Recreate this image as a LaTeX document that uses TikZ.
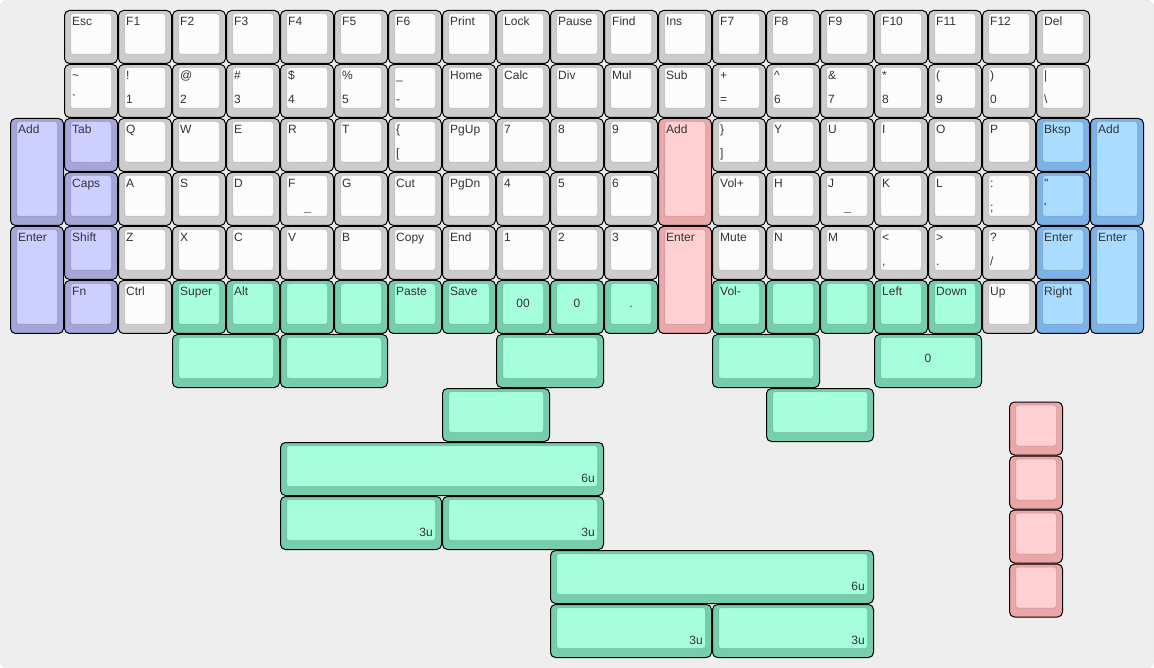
\documentclass[tikz,border=0pt]{standalone}
\usepackage{fontspec}
\setmainfont{Liberation Sans}
\definecolor{gryS}{RGB}{204,204,204}
\definecolor{gryT}{RGB}{252,252,252}
\definecolor{purS}{RGB}{163,166,214}
\definecolor{purT}{RGB}{204,207,255}
\definecolor{redS}{RGB}{235,166,168}
\definecolor{redT}{RGB}{255,208,210}
\definecolor{bluS}{RGB}{125,178,230}
\definecolor{bluT}{RGB}{170,220,255}
\definecolor{grnS}{RGB}{118,206,172}
\definecolor{grnT}{RGB}{166,255,220}
\definecolor{board}{RGB}{238,238,238}
\definecolor{ink}{RGB}{51,51,51}
\tikzset{
  keyside/.style={fill=#1S,draw=black,line width=1pt,rounded corners=5pt},
  keytop/.style={fill=#1T,draw=#1S!75!black,draw opacity=0.35,line width=1pt,rounded corners=3pt},
  keylabel/.style={anchor=base west,inner sep=0pt,font=\fontsize{12}{14}\selectfont,text=ink},
  keymid/.style={keylabel,anchor=base},
  keyright/.style={keylabel,anchor=base east},
  homing/.style={draw=ink!60,line width=0.8pt},
}
% key body: col, row, width, height (units), colour scheme
\newcommand{\keybody}[5]{%
  \path[keyside=#5] ({10+54*#1+0.5},{10+54*#2+0.5}) rectangle +({54*#3-1},{54*#4-1});
  \path[keytop=#5] ({10+54*#1+6.5},{10+54*#2+3.5}) rectangle +({54*#3-13},{54*#4-13});}
% key with top and bottom legends
\newcommand{\keycap}[7]{\keybody{#1}{#2}{#3}{#4}{#5}%
  \node[keylabel] (t#1-#2) at ({10+54*#1+8},{10+54*#2+16}) {#6};
  \node[keylabel] (b#1-#2) at ({10+54*#1+8},{10+54*#2+40}) {#7};}
% key with centred legend
\newcommand{\keymid}[6]{\keybody{#1}{#2}{#3}{#4}{#5}%
  \node[keymid] (c#1-#2) at ({10+54*#1+27*#3},{10+54*#2+28}) {#6};}
% key with bottom right legend
\newcommand{\keyright}[6]{\keybody{#1}{#2}{#3}{#4}{#5}%
  \node[keyright] (r#1-#2) at ({10+54*#1+54*#3-9},{10+54*#2+40}) {#6};}

\begin{document}
\begin{tikzpicture}[x=1pt,y=-1pt]
  \useasboundingbox (0,0) rectangle (1154,668);
  \path[fill=board,draw=black!12,rounded corners=6pt] (0.5,0.5) rectangle (1153.5,667.5);

  % function row
  \foreach \t [count=\i] in {Esc,F1,F2,F3,F4,F5,F6,Print,Lock,Pause,Find,Ins,F7,F8,F9,F10,F11,F12,Del}{
    \keycap{\i}{0}{1}{1}{gry}{\t}{}}
  % number row
  \foreach \t/\b [count=\i] in {{\textasciitilde}/{\textasciigrave},{!}/{1},{@}/{2},{\#}/{3},{\$}/{4},{\%}/{5},{\_}/{-},{Home}/{},{Calc}/{},{Div}/{},{Mul}/{},{Sub}/{},{+}/{=},{\textasciicircum}/{6},{\&}/{7},{*}/{8},{(}/{9},{)}/{0},{\textbar}/{\textbackslash}}{
    \keycap{\i}{1}{1}{1}{gry}{\t}{\b}}

  % top letter row
  \keycap{0}{2}{1}{2}{pur}{Add}{}
  \keycap{1}{2}{1}{1}{pur}{Tab}{}
  \foreach \t/\b [count=\i from 2] in {{Q}/{},{W}/{},{E}/{},{R}/{},{T}/{},{\{}/{[},{PgUp}/{},{7}/{},{8}/{},{9}/{}}{
    \keycap{\i}{2}{1}{1}{gry}{\t}{\b}}
  \keycap{12}{2}{1}{2}{red}{Add}{}
  \foreach \t/\b [count=\i from 13] in {{\}}/{]},{Y}/{},{U}/{},{I}/{},{O}/{},{P}/{}}{
    \keycap{\i}{2}{1}{1}{gry}{\t}{\b}}
  \keycap{19}{2}{1}{1}{blu}{Bksp}{}
  \keycap{20}{2}{1}{2}{blu}{Add}{}

  % home row
  \keycap{1}{3}{1}{1}{pur}{Caps}{}
  \foreach \t [count=\i from 2] in {A,S,D,F,G,Cut,PgDn,4,5,6}{
    \keycap{\i}{3}{1}{1}{gry}{\t}{}}
  \foreach \t/\b [count=\i from 13] in {{Vol+}/{},{H}/{},{J}/{},{K}/{},{L}/{},{:}/{;}}{
    \keycap{\i}{3}{1}{1}{gry}{\t}{\b}}
  \keycap{19}{3}{1}{1}{blu}{\textquotedbl}{\textquotesingle}
  \draw[homing] ({10+54*5+23.5},{10+54*3+40}) -- +(7,0);
  \draw[homing] ({10+54*15+23.5},{10+54*3+40}) -- +(7,0);

  % bottom letter row
  \keycap{0}{4}{1}{2}{pur}{Enter}{}
  \keycap{1}{4}{1}{1}{pur}{Shift}{}
  \foreach \t [count=\i from 2] in {Z,X,C,V,B,Copy,End,1,2,3}{
    \keycap{\i}{4}{1}{1}{gry}{\t}{}}
  \keycap{12}{4}{1}{2}{red}{Enter}{}
  \foreach \t/\b [count=\i from 13] in {{Mute}/{},{N}/{},{M}/{},{\textless}/{,},{\textgreater}/{.},{?}/{/}}{
    \keycap{\i}{4}{1}{1}{gry}{\t}{\b}}
  \keycap{19}{4}{1}{1}{blu}{Enter}{}
  \keycap{20}{4}{1}{2}{blu}{Enter}{}

  % modifier row
  \keycap{1}{5}{1}{1}{pur}{Fn}{}
  \keycap{2}{5}{1}{1}{gry}{Ctrl}{}
  \foreach \t [count=\i from 3] in {Super,Alt,{},{},Paste,Save}{
    \keycap{\i}{5}{1}{1}{grn}{\t}{}}
  \keymid{9}{5}{1}{1}{grn}{00}
  \keymid{10}{5}{1}{1}{grn}{0}
  \keymid{11}{5}{1}{1}{grn}{.}
  \foreach \t [count=\i from 13] in {Vol-,{},{},Left,Down}{
    \keycap{\i}{5}{1}{1}{grn}{\t}{}}
  \keycap{18}{5}{1}{1}{gry}{Up}{}
  \keycap{19}{5}{1}{1}{blu}{Right}{}

  % extra keys
  \foreach \c in {3,5,9,13}{
    \keybody{\c}{6}{2}{1}{grn}}
  \keymid{16}{6}{2}{1}{grn}{0}
  \keybody{8}{7}{2}{1}{grn}
  \keybody{14}{7}{2}{1}{grn}
  \foreach \r in {7.25,8.25,9.25,10.25}{
    \keybody{18.5}{\r}{1}{1}{red}}
  \keyright{5}{8}{6}{1}{grn}{6u}
  \keyright{5}{9}{3}{1}{grn}{3u}
  \keyright{8}{9}{3}{1}{grn}{3u}
  \keyright{10}{10}{6}{1}{grn}{6u}
  \keyright{10}{11}{3}{1}{grn}{3u}
  \keyright{13}{11}{3}{1}{grn}{3u}
\end{tikzpicture}
\end{document}
